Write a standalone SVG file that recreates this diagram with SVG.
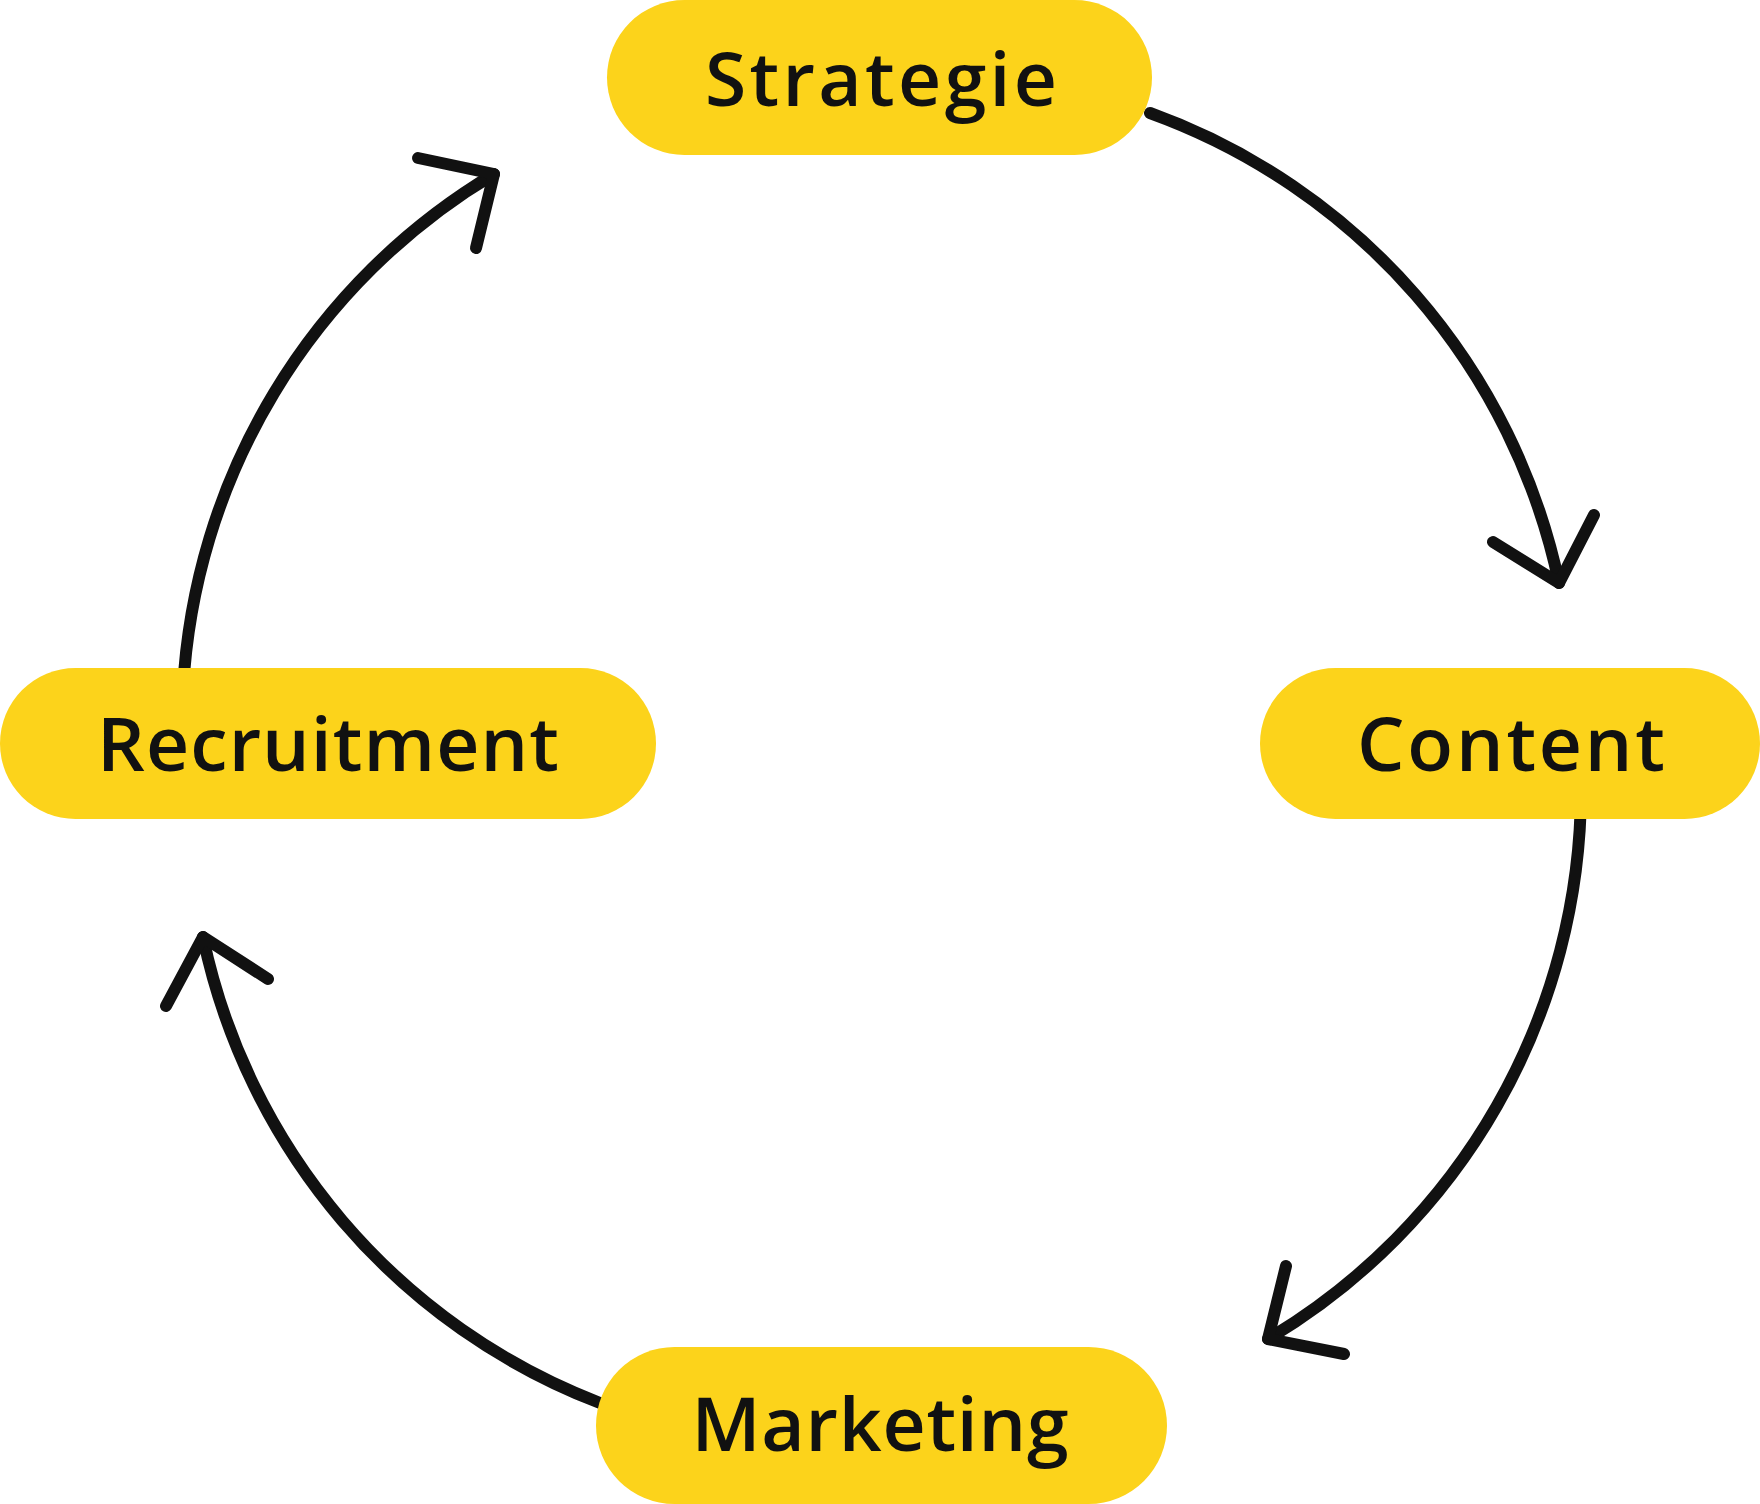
<svg xmlns="http://www.w3.org/2000/svg" width="1760" height="1504" viewBox="0 0 1760 1504">
<style>
.pill{fill:#FCD31B}
.lbl{font-family:"Open Sans","Liberation Sans",sans-serif;font-weight:600;font-size:75px;fill:#111111;text-anchor:middle}
.edge{fill:none;stroke:#111111;stroke-width:12;stroke-linecap:round;stroke-linejoin:round}
</style>
<rect width="1760" height="1504" fill="#FFFFFF"/>
<g id="connectors">
<path class="edge" d="M1150 113 A640 640 0 0 1 1559 583"/>
<polyline class="edge" points="1493,542 1559,583 1594,515"/>
<path class="edge" d="M1581 790 A640 640 0 0 1 1268 1339"/>
<polyline class="edge" points="1286,1266 1268,1339 1344,1354"/>
<path class="edge" d="M600 1403 A640 640 0 0 1 203 937"/>
<polyline class="edge" points="166,1006 203,937 268,979"/>
<path class="edge" d="M183 690 A640 640 0 0 1 494 174"/>
<polyline class="edge" points="418,158 494,174 476,248"/>
</g>
<g id="strategie">
<rect class="pill" x="607" y="0" width="545" height="155" rx="77.5"/>
<text class="lbl" x="881" y="106" textLength="352" lengthAdjust="spacing">Strategie</text>
</g>
<g id="content">
<rect class="pill" x="1260" y="668" width="500" height="151" rx="75.5"/>
<text class="lbl" x="1511" y="771" textLength="308" lengthAdjust="spacing">Content</text>
</g>
<g id="recruitment">
<rect class="pill" x="0" y="668" width="656" height="151" rx="75.5"/>
<text class="lbl" x="328" y="771" textLength="462" lengthAdjust="spacing">Recruitment</text>
</g>
<g id="marketing">
<rect class="pill" x="596" y="1347" width="571" height="157" rx="78.5"/>
<text class="lbl" x="880" y="1451" textLength="377" lengthAdjust="spacing">Marketing</text>
</g>
</svg>
